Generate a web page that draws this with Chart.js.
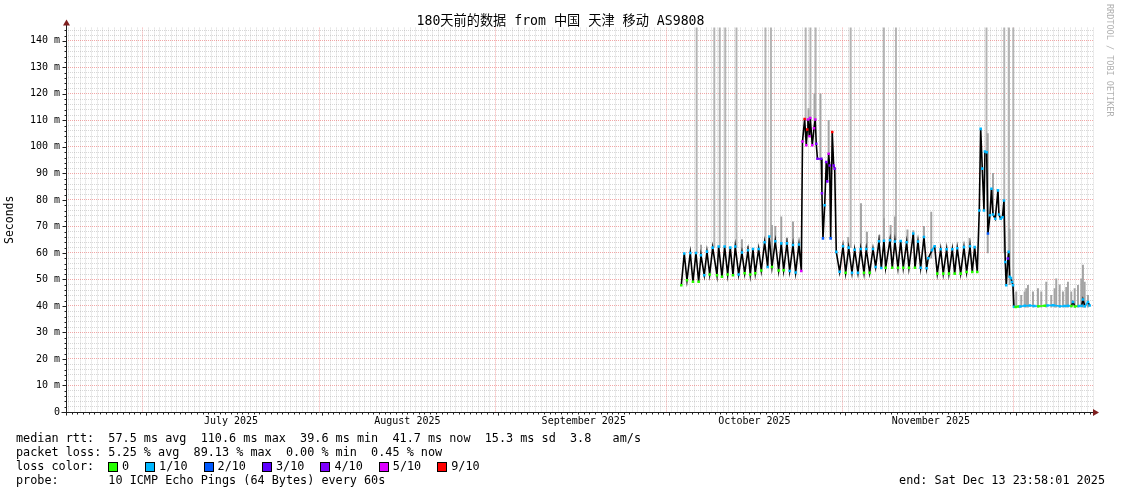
<!DOCTYPE html>
<html>
<head>
<meta charset="utf-8">
<title>180天前的数据 from 中国 天津 移动 AS9808</title>
<script src="https://cdn.jsdelivr.net/npm/chart.js@4.4.1/dist/chart.umd.min.js"></script>
<style>
  body { margin: 0; background: #fff; }
  #wrap { position: relative; width: 1121px; height: 494px; font-family: 'DejaVu Sans Mono', monospace; }
  canvas { position: absolute; left: 0; top: 0; }
  #title { position: absolute; left: 0; top: 13px; width: 1121px; text-align: center; font-family: 'DejaVu Sans Mono', 'Noto Sans CJK SC', monospace; font-size: 13.2px; line-height: 16px; white-space: pre; color: #000; }
  .txt { position: absolute; font-size: 11.8px; line-height: 14px; white-space: pre; color: #000; }
  #rrd { position: absolute; left: 1105px; top: 4px; writing-mode: vertical-rl; font-size: 8.5px; color: #b0b0b0; white-space: pre; }
  #lossRow { position: absolute; left: 108px; top: 459px; display: flex; font-size: 11.8px; line-height: 14px; }
  .box { width: 8px; height: 8px; border: 1px solid #000; margin-top: 3px; margin-right: 4px; }
  .lbl { margin-right: 16px; }
</style>
</head>
<body>
<div id="wrap">
  <canvas id="c" width="1121" height="494"></canvas>
  <div id="title">180天前的数据 from 中国 天津 移动 AS9808</div>
  <div id="rrd">RRDTOOL / TOBI OETIKER</div>
  <div class="txt" style="left:16px;top:431px">median rtt:  57.5 ms avg  110.6 ms max  39.6 ms min  41.7 ms now  15.3 ms sd  3.8   am/s</div>
  <div class="txt" style="left:16px;top:445px">packet loss: 5.25 % avg  89.13 % max  0.00 % min  0.45 % now</div>
  <div class="txt" style="left:16px;top:459px">loss color:</div>
  <div id="lossRow"></div>
  <div class="txt" style="left:16px;top:473px">probe:       10 ICMP Echo Pings (64 Bytes) every 60s</div>
  <div class="txt" style="right:16px;top:473px">end: Sat Dec 13 23:58:01 2025</div>
</div>
<script>
// x = days since start of the 180 day window (Jun 17 2025)
const monthStarts = [14, 45, 76, 106, 137, 167];
const xTickDays = [29, 60, 91, 121, 152];
const xTickLabels = ['July 2025', 'August 2025', 'September 2025', 'October 2025', 'November 2025'];
const yTickLabels = ['0', '10 m', '20 m', '30 m', '40 m', '50 m', '60 m', '70 m', '80 m', '90 m', '100 m', '110 m', '120 m', '130 m', '140 m'];

const lossLabels = ['0', '1/10', '2/10', '3/10', '4/10', '5/10', '9/10'];
const lossColors = ['#26ff00', '#00b8ff', '#0059ff', '#5e00ff', '#7e00ff', '#dd00ff', '#ff0000'];

// median rtt (ms)
const medianDays = [
  108.14, 108.66, 109.14, 109.72, 110.19, 110.72, 111.19, 111.60, 112.18, 112.65,
  113.13, 113.66, 114.41, 114.71, 115.29, 115.76, 116.29, 116.75, 117.22, 117.63,
  118.22, 118.80, 119.28, 119.86, 120.26, 120.74, 121.14, 121.74, 122.20, 122.79,
  123.32, 123.60, 124.08, 124.66, 125.25, 125.71, 126.13, 126.71, 127.19, 127.77,
  128.24, 128.82, 129.23, 129.44, 129.82, 130.11, 130.28, 130.40, 130.67, 130.81,
  131.16, 131.46, 131.69, 131.86, 132.07, 132.74, 132.86, 133.04, 133.34, 133.62,
  133.80, 134.04, 134.22, 134.39, 134.67, 134.92, 135.10, 135.38, 135.97, 136.56,
  137.03, 137.56, 138.14, 138.61, 139.19, 139.67, 140.25, 140.65, 141.25, 141.83,
  142.30, 142.88, 143.29, 143.76, 144.06, 144.82, 145.22, 145.69, 146.22, 146.70,
  147.15, 147.75, 148.15, 148.91, 149.21, 149.74, 150.21, 150.79, 151.26, 151.55,
  152.20, 152.67, 153.13, 153.73, 154.18, 154.78, 155.18, 155.77, 156.19, 156.64,
  157.24, 157.82, 158.29, 158.88, 159.28, 159.70, 160.16, 160.51, 160.76, 161.04,
  161.34, 161.51, 161.81, 162.04, 162.39, 162.65, 162.92, 163.32, 163.80, 163.97,
  164.27, 164.59, 164.85, 165.08, 165.25, 165.55, 165.68, 165.85, 166.08, 166.26,
  166.43, 166.61, 166.90, 167.40, 167.70, 168.50, 169.42, 170.20, 170.90, 172.00,
  172.50, 173.50, 174.69, 175.50, 176.10, 176.70, 176.98, 177.33, 178.00, 178.50,
  178.73, 179.07, 179.61, 179.91
];
const medianValues = [
  47.8, 59.8, 49.7, 60.0, 49.1, 60.0, 49.1, 59.1, 51.6, 60.5,
  51.9, 62.0, 51.6, 62.4, 51.0, 62.4, 51.9, 62.0, 51.6, 62.4,
  51.9, 60.2, 52.3, 61.0, 51.9, 61.5, 52.3, 61.5, 53.4, 64.0,
  54.7, 66.2, 54.7, 64.4, 53.4, 63.6, 53.5, 63.6, 53.2, 63.0,
  52.6, 63.2, 53.2, 102.0, 110.5, 100.6, 106.6, 110.3, 104.0, 110.9,
  100.6, 107.0, 110.3, 101.2, 95.5, 95.5, 82.5, 65.5, 78.0, 94.3,
  87.0, 97.4, 93.0, 65.5, 105.6, 93.0, 91.8, 60.4, 52.9, 62.5,
  52.5, 62.0, 52.5, 61.2, 52.5, 61.5, 52.5, 61.5, 52.5, 61.5,
  54.7, 64.4, 54.3, 64.6, 54.4, 64.8, 54.4, 64.3, 54.4, 64.5,
  54.4, 64.0, 54.4, 67.3, 54.4, 64.3, 54.4, 66.0, 54.2, 58.0,
  61.0, 62.5, 52.2, 61.4, 52.2, 61.4, 52.2, 61.4, 52.2, 61.8,
  52.2, 62.2, 52.8, 62.5, 52.8, 62.2, 52.8, 76.0, 106.8, 91.8,
  76.0, 98.3, 98.0, 67.3, 74.2, 84.2, 74.5, 72.9, 83.6, 74.5,
  72.9, 73.5, 79.8, 56.6, 47.8, 57.9, 60.4, 51.0, 50.5, 49.0,
  47.8, 39.7, 39.6, 39.8, 39.8, 40.1, 40.2, 40.0, 39.9, 40.1,
  40.2, 40.3, 39.9, 40.0, 40.1, 40.0, 41.5, 39.8, 40.0, 40.1,
  42.4, 39.9, 41.5, 40.2
];
// index into lossColors for each median point
const medianLoss = [
  0, 1, 0, 1, 0, 1, 0, 1, 1, 1,
  0, 1, 0, 1, 0, 1, 0, 1, 0, 1,
  1, 1, 0, 1, 0, 1, 0, 1, 0, 1,
  1, 1, 0, 1, 0, 1, 0, 1, 1, 1,
  1, 1, 5, 5, 6, 5, 6, 5, 5, 5,
  5, 5, 5, 4, 4, 4, 4, 2, 1, 4,
  4, 5, 4, 2, 6, 4, 4, 1, 1, 1,
  0, 1, 1, 1, 1, 1, 0, 1, 0, 1,
  1, 1, 1, 1, 0, 1, 0, 1, 0, 1,
  0, 1, 0, 1, 0, 1, 1, 1, 1, 1,
  1, 1, 0, 1, 0, 1, 0, 1, 0, 1,
  0, 1, 0, 1, 0, 1, 0, 1, 1, 1,
  1, 1, 1, 2, 1, 1, 1, 1, 1, 1,
  1, 1, 1, 1, 1, 3, 1, 1, 1, 1,
  1, 1, 0, 0, 1, 1, 1, 1, 0, 0,
  1, 1, 1, 1, 1, 0, 1, 0, 1, 1,
  1, 1, 1, 1
];

// smoke: spread of the individual pings (ms)
const smokeDays = [
  110.84, 113.94, 114.90, 115.87, 117.84, 122.93, 123.90, 130.00, 130.84, 131.75,
  137.91, 143.75, 145.87, 161.78, 164.90, 165.73, 166.49,
  111.60, 118.80, 119.86, 124.08, 124.66, 125.71, 126.71, 127.77, 130.50, 131.55,
  132.60, 134.04, 137.48, 139.72, 140.77, 142.95, 143.76, 144.93, 145.69, 147.89,
  148.91, 150.79, 152.07, 158.81, 162.00, 162.92, 165.85,
  167.01, 167.89, 168.49, 168.77, 169.07, 169.95, 170.83, 171.41, 172.29, 173.16,
  173.76, 174.04, 174.64, 175.22, 175.80, 176.10, 176.68, 177.28, 177.86, 178.44,
  178.73, 179.03, 179.61
];
const smokeLow = [
  60, 62, 62, 62, 62, 64, 66, 110, 110, 110,
  62, 65, 65, 98, 60, 58, 40,
  59, 60, 60, 55, 64, 63, 62, 62, 104, 107,
  95, 97, 62, 61, 61, 64, 64, 64, 64, 64,
  64, 66, 58, 62, 60, 75, 48,
  39.5, 39.5, 39.5, 39.5, 39.5, 39.5, 39.5, 39.5, 39.5, 39.5,
  39.5, 39.5, 39.5, 39.5, 39.5, 39.5, 39.5, 39.5, 39.5, 39.5,
  39.5, 39.5, 39.5
];
const smokeHigh = [
  150, 150, 150, 150, 150, 150, 150, 150, 150, 150,
  150, 150, 150, 150, 150, 150, 150,
  63, 65, 62.5, 70.4, 70, 73.6, 65.5, 71.7, 114.5, 120,
  120, 110, 65.9, 78.6, 67.9, 66.7, 73, 70.4, 73.6, 68.7,
  68.4, 70, 75.4, 65.5, 105, 90, 69,
  45.3, 44, 45.3, 46.6, 47.8, 45.3, 46.6, 45.3, 49, 44,
  46.6, 50.2, 48, 45.3, 47, 49, 45.3, 46.6, 47.8, 50.2,
  55.4, 49, 44
];

// legend row
const row = document.getElementById('lossRow');
lossLabels.forEach((l, i) => {
  const b = document.createElement('span');
  b.className = 'box';
  b.style.background = lossColors[i];
  const t = document.createElement('span');
  t.className = 'lbl';
  t.textContent = l;
  row.appendChild(b);
  row.appendChild(t);
});

const FONT = "'DejaVu Sans Mono', 'Noto Sans CJK SC', monospace";
const MINOR = 'rgba(150,150,150,0.38)';
const MAJOR = 'rgba(230,80,80,0.5)';

const rrdAxes = {
  id: 'rrdAxes',
  afterDraw(chart) {
    const {ctx, chartArea: a, scales: {x, y}} = chart;
    const line = (x1, y1, x2, y2) => { ctx.beginPath(); ctx.moveTo(x1, y1); ctx.lineTo(x2, y2); ctx.stroke(); };
    ctx.save();
    ctx.strokeStyle = '#1f1f1f';
    ctx.lineWidth = 1;
    const ax = Math.round(a.left) + 0.5;
    const ay = Math.round(a.bottom) + 0.5;
    y.ticks.forEach(t => {
      const py = Math.round(y.getPixelForValue(t.value)) + 0.5;
      line(ax - (t.value % 10 === 0 ? 4 : 2), py, ax, py);
    });
    x.ticks.forEach(t => {
      const px = Math.round(x.getPixelForValue(t.value)) + 0.5;
      line(px, ay, px, ay + (monthStarts.includes(t.value) ? 3 : 2));
    });
    line(ax, ay + 3, ax, a.top - 5);
    line(ax - 5, ay, a.right + 1, ay);
    ctx.fillStyle = '#7f1f1f';
    ctx.beginPath();
    ctx.moveTo(ax - 3.5, a.top - 2); ctx.lineTo(ax + 3.5, a.top - 2); ctx.lineTo(ax, a.top - 8); ctx.closePath(); ctx.fill();
    ctx.beginPath();
    ctx.moveTo(a.right, ay - 3.5); ctx.lineTo(a.right, ay + 3.5); ctx.lineTo(a.right + 6, ay); ctx.closePath(); ctx.fill();
    ctx.restore();
  }
};

const tickVal = c => (c.tick ? c.tick.value : -1);

new Chart(document.getElementById('c'), {
  type: 'line',
  data: {
    datasets: [{
      type: 'line',
      label: 'median rtt',
      data: medianDays.map((d, i) => ({x: d, y: medianValues[i]})),
      borderColor: '#000',
      borderWidth: 1.6,
      tension: 0,
      pointStyle: 'rect',
      pointRadius: 1.8,
      pointBorderWidth: 0,
      pointBackgroundColor: medianLoss.map(i => lossColors[i]),
      segment: {
        borderColor: c => {
          const dx = Math.abs(c.p1.x - c.p0.x), dy = Math.abs(c.p1.y - c.p0.y);
          return dy > dx * 1.5 ? '#000' : lossColors[medianLoss[c.p0DataIndex]];
        }
      },
      order: 0
    }, {
      type: 'bar',
      label: 'smoke',
      data: smokeDays.map((d, i) => ({x: d, y: [smokeLow[i], smokeHigh[i]]})),
      backgroundColor: smokeHigh.map(h => h >= 145 ? '#b4b4b4' : '#a4a4a4'),
      barThickness: 1.3,
      order: 1
    }]
  },
  options: {
    responsive: false,
    animation: false,
    layout: { padding: { left: 0, right: 28, top: 27.6, bottom: 62 } },
    plugins: {
      legend: { display: false },
      tooltip: { enabled: false },
      title: { display: false }
    },
    scales: {
      x: {
        type: 'linear',
        min: 0,
        max: 180.5,
        offset: false,
        afterBuildTicks: s => { s.ticks = []; for (let d = 0; d <= 180; d++) s.ticks.push({value: d}); },
        afterFit: s => { s.height = 20; },
        grid: {
          drawTicks: false,
          color: c => monthStarts.includes(tickVal(c)) ? MAJOR : MINOR
        },
        border: { display: false, dash: [1, 1] },
        ticks: {
          autoSkip: false,
          maxRotation: 0,
          padding: 3,
          color: '#000',
          font: { family: FONT, size: 10 },
          callback: v => { const k = xTickDays.indexOf(v); return k >= 0 ? xTickLabels[k] : ''; }
        }
      },
      y: {
        min: 0,
        max: 145,
        afterBuildTicks: s => { s.ticks = []; for (let v = 0; v <= 144; v += 2) s.ticks.push({value: v}); },
        afterFit: s => { s.width = 66; },
        grid: {
          drawTicks: false,
          color: c => tickVal(c) % 10 === 0 ? MAJOR : MINOR
        },
        border: { display: false, dash: [1, 1] },
        ticks: {
          autoSkip: false,
          padding: 6,
          color: '#000',
          font: { family: FONT, size: 10 },
          callback: v => v % 10 === 0 ? yTickLabels[v / 10] : ''
        },
        title: {
          display: true,
          text: 'Seconds',
          color: '#000',
          font: { family: FONT, size: 11.5 },
          padding: { top: 3, bottom: 0 }
        }
      }
    }
  },
  plugins: [rrdAxes]
});
</script>
</body>
</html>
